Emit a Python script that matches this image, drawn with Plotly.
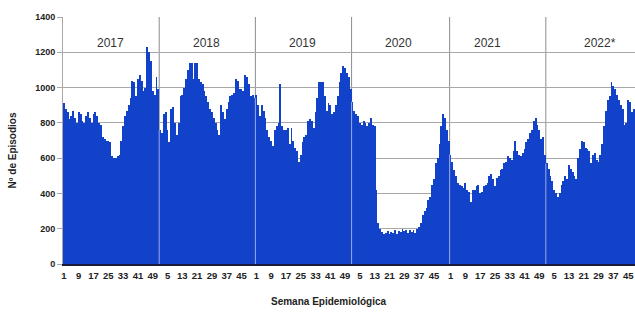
import numpy as np
import plotly.graph_objects as go

years = ["2017", "2018", "2019", "2020", "2021", "2022*"]

episodes_2017 = [910, 880, 860, 820, 840, 870, 830, 800, 860, 850,
                 810, 800, 840, 860, 830, 800, 850, 860, 840, 800,
                 790, 720, 710, 700, 700, 690, 610, 600, 600, 610,
                 620, 700, 780, 840, 870, 900, 940, 1040, 1030, 950,
                 1050, 1070, 1040, 980, 1000, 1230, 1200, 1150, 980, 960,
                 1060, 990]
episodes_2018 = [760, 740, 850, 860, 760, 690, 880, 890, 800, 730,
                 800, 950, 960, 1000, 1050, 1100, 1140, 1140, 1050, 1140,
                 1140, 1050, 1030, 1020, 980, 950, 920, 880, 860, 830,
                 800, 760, 730, 900, 860, 820, 880, 920, 950, 960,
                 970, 1050, 1040, 990, 990, 980, 1070, 1060, 1020, 950,
                 960, 940]
episodes_2019 = [960, 900, 840, 900, 870, 830, 760, 720, 700, 670,
                 760, 780, 800, 1020, 780, 760, 760, 770, 680, 770,
                 700, 660, 640, 580, 620, 690, 720, 730, 810, 820,
                 810, 770, 860, 940, 1030, 1030, 1030, 950, 870, 910,
                 900, 850, 860, 900, 950, 1030, 1080, 1120, 1110, 1080,
                 1060, 990]
episodes_2020 = [920, 870, 850, 840, 800, 790, 810, 800, 780, 800,
                 830, 790, 780, 420, 230, 200, 180, 170, 175, 185,
                 170, 180, 175, 190, 170, 185, 180, 200, 185, 190,
                 175, 195, 180, 190, 175, 200, 210, 230, 280, 300,
                 320, 360, 380, 450, 480, 570, 600, 680, 780, 850,
                 830, 760, 700]
episodes_2021 = [620, 580, 530, 500, 460, 450, 440, 430, 460, 420,
                 410, 350, 420, 420, 440, 450, 400, 410, 440, 450,
                 460, 500, 510, 480, 440, 490, 500, 530, 540, 570,
                 580, 610, 600, 590, 640, 700, 640, 620, 610, 630,
                 650, 690, 710, 740, 760, 810, 830, 790, 760, 710,
                 720, 620]
episodes_2022 = [570, 540, 500, 470, 420, 400, 380, 400, 450, 470,
                 500, 480, 560, 540, 520, 500, 480, 600, 650, 700,
                 690, 660, 650, 640, 570, 620, 630, 590, 580, 620,
                 680, 780, 870, 930, 950, 1030, 1010, 990, 960, 930,
                 900, 880, 790, 800, 930, 920, 860, 880]

weeks_in_year = [52, 52, 52, 53, 52, 52]
ticks_odd = [1, 9, 17, 25, 33, 41, 49]
ticks_even = [5, 13, 21, 29, 37, 45]
year_ticks = [ticks_odd, ticks_even, ticks_odd, ticks_even, ticks_odd, ticks_even]
year_label_week = [26, 26, 26, 26, 21, 30]

series = [episodes_2017, episodes_2018, episodes_2019,
          episodes_2020, episodes_2021, episodes_2022]
values = np.concatenate([np.array(s, dtype=float) for s in series])
x = np.arange(len(values))
starts = np.concatenate([[0], np.cumsum(weeks_in_year)[:-1]])

tickvals, ticktext = [], []
for st, tk in zip(starts, year_ticks):
    for w in tk:
        tickvals.append(int(st) + w - 1)
        ticktext.append(str(w))

BLUE = "#1242CA"
FONT = "Liberation Sans, Arial"
fig = go.Figure(go.Bar(x=x, y=values, width=1.0,
                       marker=dict(color=BLUE, line=dict(width=0)),
                       hoverinfo="skip"))

shapes = []
for st in starts[1:]:
    xb = st - 0.5
    shapes.append(dict(type="line", xref="x", yref="y", x0=xb, x1=xb, y0=0, y1=1400,
                       line=dict(color="#8c8c8c", width=1), layer="below"))
    hmin = min(values[st - 1], values[st])
    shapes.append(dict(type="line", xref="x", yref="y", x0=xb, x1=xb, y0=0, y1=hmin,
                       line=dict(color="rgba(200,208,240,0.75)", width=1), layer="above"))

annotations = []
for st, lab, lw in zip(starts, years, year_label_week):
    annotations.append(dict(x=int(st) + lw - 1, y=1253, xref="x", yref="y", text=lab,
                            xanchor="center", yanchor="middle", showarrow=False,
                            font=dict(family=FONT, size=12, color="#333333")))
annotations.append(dict(x=(328 - 63) / 572, y=-0.15, xref="paper", yref="paper",
                        xanchor="center", yanchor="middle",
                        text="<b>Semana Epidemiológica</b>", showarrow=False,
                        font=dict(family=FONT, size=10, color="#222222")))
annotations.append(dict(x=(12 - 63) / 572, y=0.46, xref="paper", yref="paper", textangle=-90,
                        xanchor="center", yanchor="middle",
                        text="<b>Nº de Episodios</b>", showarrow=False,
                        font=dict(family=FONT, size=10, color="#222222")))

fig.update_layout(
    width=635, height=314,
    margin=dict(l=63, r=0, t=17, b=50, autoexpand=False),
    paper_bgcolor="white", plot_bgcolor="white",
    bargap=0, showlegend=False,
    shapes=shapes, annotations=annotations,
    xaxis=dict(range=[-0.5, 308.7], tickvals=tickvals, ticktext=ticktext, automargin=False,
               showgrid=False, zeroline=False, showline=True, linecolor="#1a1a3a", linewidth=2,
               ticks="", tickangle=0, ticklabelstandoff=2,
               tickfont=dict(family=FONT, size=9.5, color="#222222", weight="bold")),
    yaxis=dict(range=[0, 1400], dtick=200, showgrid=True, gridcolor="#a8a8a8", gridwidth=1,
               automargin=False,
               zeroline=False, showline=True, linecolor="#a8a8a8", linewidth=1,
               ticks="outside", ticklen=5, tickcolor="#a8a8a8",
               tickfont=dict(family=FONT, size=9, color="#222222", weight="bold")),
)

fig.write_html("out.html",
               config={"displayModeBar": False, "staticPlot": True},
               post_script="document.body.style.margin='0';document.body.style.overflow='hidden';")
